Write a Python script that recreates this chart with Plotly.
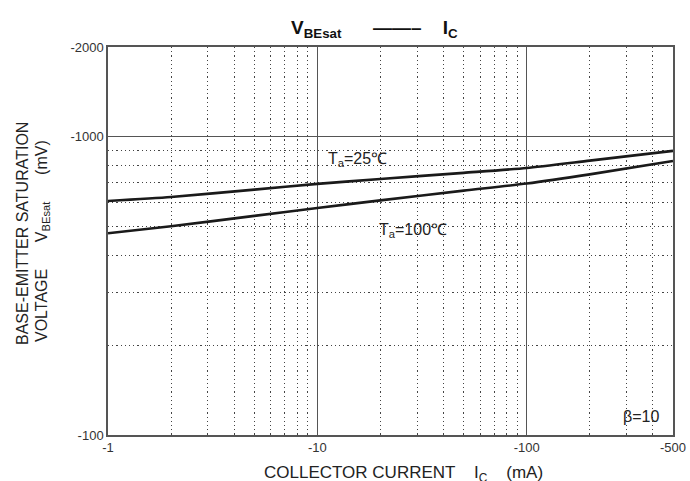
import plotly.graph_objects as go

# Data (magnitudes; axis labels show the negative sign)
ic = [1, 2, 5, 10, 20, 50, 100, 200, 500]
vbe_25 = [609, 628, 665, 695, 722, 757, 786, 832, 897]
vbe_100 = [475, 501, 543, 577, 612, 660, 697, 748, 830]

x_tickvals = [1, 10, 100, 500]
x_ticktext = ["-1", "-10", "-100", "-500"]
x_minor = [2, 3, 4, 5, 6, 7, 8, 9, 20, 30, 40, 50, 60, 70, 80, 90, 200, 300, 400]
y_tickvals = [100, 1000, 2000]
y_ticktext = ["-100", "-1000", "-2000"]
y_minor = [200, 300, 400, 500, 600, 700, 800, 900]

FONT = "Liberation Sans, Arial, sans-serif"
TXT = "#222222"

fig = go.Figure()
for vals in (vbe_25, vbe_100):
    fig.add_trace(go.Scatter(x=ic, y=vals, mode="lines",
                             line=dict(color="#1a1a1a", width=2.6, shape="spline", smoothing=0.6),
                             showlegend=False, hoverinfo="skip"))

axis_common = dict(type="log", showline=True, linecolor="#555555", linewidth=1.5, mirror=True,
                   showgrid=True, gridcolor="#555555", gridwidth=1.4, ticks="", zeroline=False,
                   tickfont=dict(family=FONT, size=13, color="#333333"))

fig.update_xaxes(**axis_common, range=[0, 2.69897], tickmode="array", tickvals=x_tickvals, ticktext=x_ticktext,
                 minor=dict(tickmode="array", tickvals=x_minor, showgrid=True, gridcolor="#444444",
                            griddash="1.2px,3px", gridwidth=1.2, ticks=""))
fig.update_yaxes(**axis_common, range=[2, 3.30103], tickmode="array", tickvals=y_tickvals, ticktext=y_ticktext,
                 minor=dict(tickmode="array", tickvals=y_minor, showgrid=True, gridcolor="#444444",
                            griddash="1.2px,3px", gridwidth=1.2, ticks=""))

annots = [
    dict(text="<b>V<sub>BEsat</sub>      ——–    I<sub>C</sub></b>", x=0.472, y=1.0, xref="paper", yref="paper",
         xanchor="center", yanchor="bottom", yshift=4, showarrow=False,
         font=dict(family=FONT, size=19, color="#111111")),
    dict(text="COLLECTOR CURRENT    I<sub>C</sub>    (mA)", x=0.523, y=0, xref="paper", yref="paper",
         xanchor="center", yanchor="top", yshift=-26, showarrow=False,
         font=dict(family=FONT, size=17, color=TXT)),
    dict(text="BASE-EMITTER SATURATION", x=0, y=0.518, xref="paper", yref="paper", textangle=-90,
         xanchor="center", yanchor="middle", xshift=-86, showarrow=False,
         font=dict(family=FONT, size=16, color=TXT)),
    dict(text="VOLTAGE      V<sub>BEsat</sub>      (mV)", x=0, y=0.50, xref="paper", yref="paper", textangle=-90,
         xanchor="center", yanchor="middle", xshift=-66, showarrow=False,
         font=dict(family=FONT, size=16, color=TXT)),
    dict(text="T<sub>a</sub>=25℃", x=1.19, y=2.923, xref="x", yref="y", xanchor="center", yanchor="middle",
         showarrow=False, font=dict(family=FONT, size=16, color=TXT)),
    dict(text="T<sub>a</sub>=100℃", x=1.457, y=2.687, xref="x", yref="y", xanchor="center", yanchor="middle",
         showarrow=False, font=dict(family=FONT, size=16, color=TXT)),
    dict(text="β=10", x=0.978, y=0.02, xref="paper", yref="paper", xanchor="right", yanchor="bottom",
         showarrow=False, font=dict(family=FONT, size=16, color=TXT)),
]
fig.update_layout(width=698, height=481, margin=dict(l=108, r=17, t=47, b=46),
                  plot_bgcolor="white", paper_bgcolor="white", annotations=annots,
                  font=dict(family=FONT))
fig.write_html("out.html", config={"displayModeBar": False},
               post_script="document.body.style.margin='0';document.body.style.overflow='hidden';")
